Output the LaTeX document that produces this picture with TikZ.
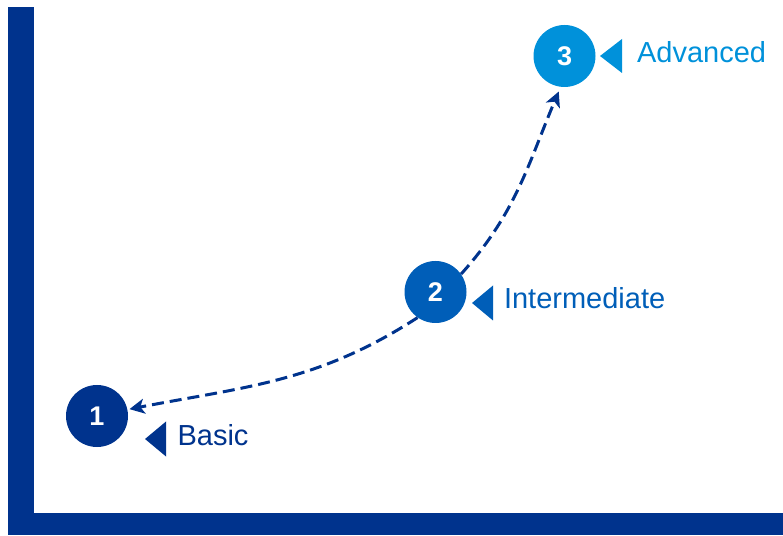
\documentclass[tikz,border=0pt]{standalone}
\usepackage{fontspec}
\setmainfont{Liberation Sans}
\usetikzlibrary{arrows.meta}

\definecolor{kdark}{RGB}{0,51,141}
\definecolor{kmid}{RGB}{0,94,184}
\definecolor{klight}{RGB}{0,145,218}

\tikzset{
  stage/.style={circle, minimum size=62pt, inner sep=0pt, text=white,
    font=\fontsize{27}{32}\selectfont\bfseries},
  stagename/.style={anchor=base west, font=\fontsize{29}{35}\selectfont},
  trend/.style={kdark, line width=3pt, dash pattern=on 12pt off 6pt,
    -{Stealth[length=15pt, width=15pt, inset=4pt]}},
}

\begin{document}
\begin{tikzpicture}[x=1pt, y=1pt]
  \useasboundingbox (0,0) rectangle (783,535);

  % axes
  \fill[kdark] (8,0) rectangle (34,528);
  \fill[kdark] (8,0) rectangle (783,22);

  % the three stages
  \node[stage, fill=kdark]  (n1) at (97,119)    {1};
  \node[stage, fill=kmid]   (n2) at (435.5,243) {2};
  \node[stage, fill=klight] (n3) at (564.5,479) {3};

  % pointers and names
  \fill[kdark]  (145,96)  -- ++(21,17.5) -- ++(0,-35) -- cycle;
  \fill[kmid]   (472,232) -- ++(21,17.5) -- ++(0,-35) -- cycle;
  \fill[klight] (600,479) -- ++(22,17) -- ++(0,-34) -- cycle;

  \node[stagename, text=kdark]  (t1) at (174,89)    {Basic};
  \node[stagename, text=kmid]   (t2) at (500.5,226) {Intermediate};
  \node[stagename, text=klight] (t3) at (633.5,472) {Advanced};

  % growth curve
  \draw[trend, shorten >=2pt] (n2.235) to[out=213, in=11] (n1.12);
  \draw[trend, shorten >=5pt] (n2.35) to[out=48, in=247] (n3.263);
\end{tikzpicture}
\end{document}
